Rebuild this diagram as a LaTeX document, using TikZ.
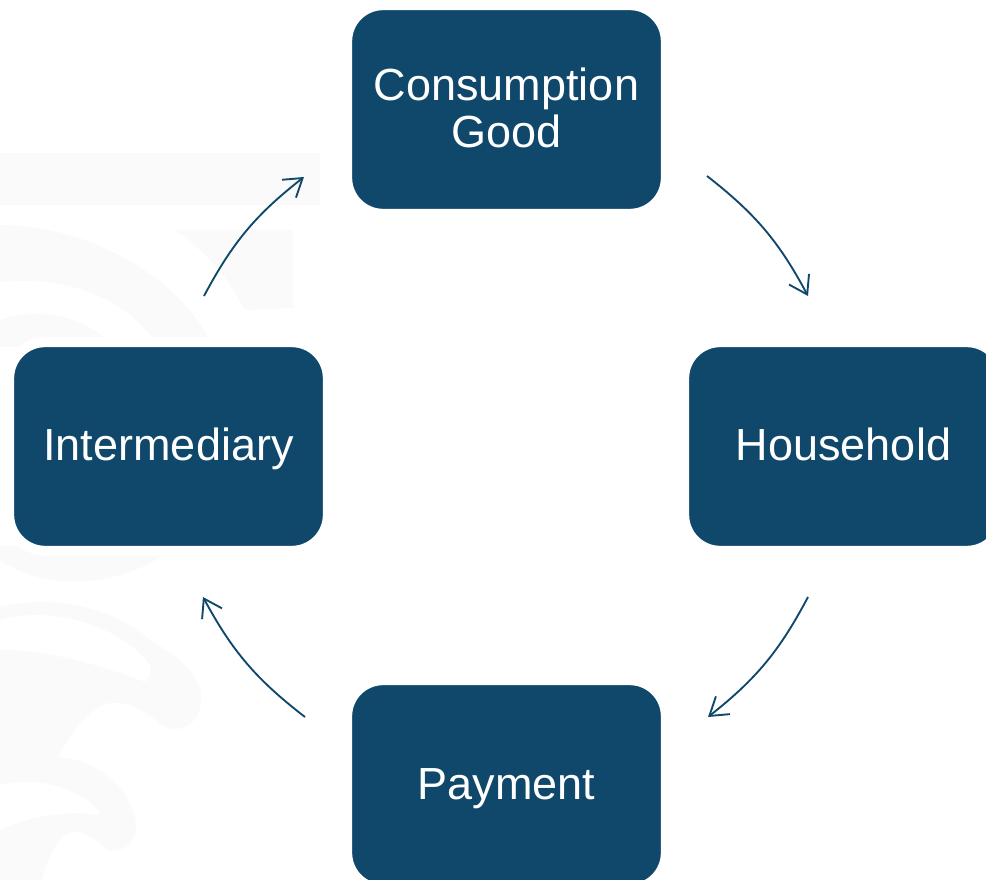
\documentclass[tikz,border=0pt]{standalone}
\usepackage{fontspec}
\setmainfont{Liberation Sans}
\usetikzlibrary{arrows.meta}
\definecolor{navy}{HTML}{10486B}
\definecolor{wm}{HTML}{FAFAFA}
\tikzset{
  box/.style={fill=navy,draw=white,line width=7.5pt,rounded corners=27pt,minimum width=239pt,minimum height=156.5pt,inner sep=0pt,text=white,align=center,font=\fontsize{33.75}{35.2}\selectfont},
  oneline/.style={text height=21.75pt,text depth=0pt},
  twolines/.style={text depth=3pt},
  flow/.style={draw=navy,line width=1.4pt,-{Straight Barb[length=13pt,width=17pt,line width=1.4pt]}},
}
\begin{document}
\begin{tikzpicture}[x=0.75pt,y=-0.75pt]
\useasboundingbox (0,0) rectangle (986,880);
\clip (0,0) rectangle (986,880);
\fill[white] (0,0) rectangle (986,880);
% faint watermark
\fill[wm] (0,153) rectangle (320,205);
\fill[wm] (175,230) -- (293,230) -- (293,308) -- (245,310) .. controls (230,280) and (205,250) .. (175,230) -- cycle;
\fill[wm] (0,225) .. controls (90,225) and (185,280) .. (212,347) -- (158,347) .. controls (130,300) and (70,275) .. (0,282) -- cycle;
\fill[wm] (0,320) .. controls (45,305) and (90,320) .. (115,347) -- (0,347) -- cycle;
\fill[wm] (0,546) -- (175,546) .. controls (130,585) and (50,595) .. (0,560) -- cycle;
\fill[wm] (0,607) .. controls (50,595) and (110,605) .. (150,640) .. controls (185,660) and (203,680) .. (201,700) .. controls (200,725) and (180,733) .. (165,727) .. controls (150,715) and (130,698) .. (105,704) .. controls (85,712) and (70,735) .. (58,757) .. controls (100,760) and (132,790) .. (136,825) .. controls (137,845) and (120,853) .. (108,850) .. controls (95,840) and (85,828) .. (68,833) .. controls (55,840) and (45,865) .. (42,880) -- (0,880) -- cycle;
\fill[white] (0,620) .. controls (50,605) and (120,625) .. (150,665) .. controls (152,672) and (150,678) .. (145,682) .. controls (100,665) and (50,650) .. (0,650) -- cycle;
\fill[white] (0,785) .. controls (40,775) and (85,790) .. (101,815) .. controls (70,810) and (30,815) .. (0,830) -- cycle;
% nodes
\node[box,twolines] (cg) at (506.5,109.5) {Consumption\\Good};
\node[box,oneline] (hh) at (843.5,446.5) {Household};
\node[box,oneline] (pm) at (506.5,784.5) {Payment};
\node[box,oneline] (im) at (168.5,446.5) {Intermediary};
% connector ends
\coordinate (a1) at (707,176);
\coordinate (a2) at (808,296);
\coordinate (b1) at (808,597);
\coordinate (b2) at (708,717);
\coordinate (c1) at (305,717);
\coordinate (c2) at (203,597);
\coordinate (d1) at (204,296);
\coordinate (d2) at (304,177);
\draw[flow] (a1) to[bend left=12] (a2);
\draw[flow] (b1) to[bend left=12] (b2);
\draw[flow] (c1) to[bend left=12] (c2);
\draw[flow] (d1) to[bend left=12] (d2);
\end{tikzpicture}
\end{document}
